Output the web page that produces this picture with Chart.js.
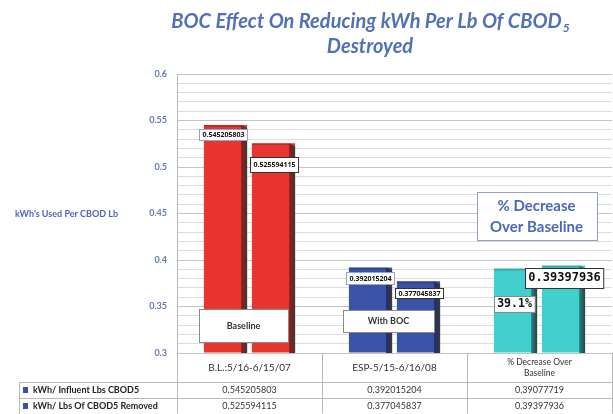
<!DOCTYPE html>
<html>
<head>
<meta charset="utf-8">
<script src="https://cdn.jsdelivr.net/npm/chart.js@4.4.1/dist/chart.umd.min.js"></script>
<style>
  html, body { margin: 0; padding: 0; background: #fff; }
</style>
</head>
<body>
<canvas id="chart" width="613" height="414"></canvas>
<script>
const categories = ["B.L.:5/16-6/15/07", "ESP-5/15-6/16/08", ["% Decrease Over", "Baseline"]];
const seriesNames = ["kWh/ Influent Lbs CBOD5", "kWh/ Lbs Of CBOD5 Removed"];
const influent = [0.545205803, 0.392015204, 0.39077719];
const removed = [0.525594115, 0.377045837, 0.39397936];
const influentLabels = ["0.545205803", "0.392015204", "39.1%"];
const removedLabels = ["0.525594115", "0.377045837", "0.39397936"];
const notes = ["Baseline", "With BOC", ["% Decrease", "Over Baseline"]];
const yTicks = ["0.3", "0.35", "0.4", "0.45", "0.5", "0.55", "0.6"];

const faceColors = ["#e8352f", "#3a52a8", "#44cfcf"];
const sideColors = ["#9a1a16", "#1f2d6e", "#178f8f"];

// where Excel put each data label, relative to its bar top
const labelStyle = [
  [
    { dx: -2, dy: 10, font: "bold 7px 'Open Sans'", h: 11, border: "#93a6c8" },
    { dx: 0, dy: 11, font: "bold 7px 'Open Sans'", h: 12, border: "#93a6c8" },
    { dx: -1, dy: 35, font: "bold 11.5px 'DejaVu Sans Mono'", h: 16, border: "#8a8a8a" }
  ],
  [
    { dx: 1, dy: 21, font: "bold 7px 'Open Sans'", h: 15, border: "#333" },
    { dx: 1, dy: 12, font: "bold 7px 'Open Sans'", h: 10, border: "#333" },
    { dx: 1, dy: 12, font: "bold 12px 'DejaVu Sans Mono'", h: 20, border: "#333" }
  ]
];

function drawBox(ctx, cx, cy, w, h, border) {
  const x = Math.round(cx - w / 2) + 0.5;
  const y = Math.round(cy - h / 2) + 0.5;
  ctx.fillStyle = "#fff";
  ctx.fillRect(x, y, w, h);
  ctx.strokeStyle = border;
  ctx.lineWidth = 1;
  ctx.strokeRect(x, y, w, h);
}

const bars3d = {
  id: "bars3d",
  afterDatasetsDraw(chart) {
    const ctx = chart.ctx;
    const bottom = chart.chartArea.bottom;
    chart.data.datasets.forEach((ds, d) => {
      chart.getDatasetMeta(d).data.forEach((bar, i) => {
        const left = bar.x - bar.width / 2;
        const right = bar.x + bar.width / 2;
        const side = 6;
        const g = ctx.createLinearGradient(right - side, 0, right, 0);
        g.addColorStop(0, sideColors[i]);
        g.addColorStop(1, "#3a3a3a");
        ctx.fillStyle = g;
        ctx.beginPath();
        ctx.moveTo(right - side, bar.y);
        ctx.lineTo(right, bar.y + 3);
        ctx.lineTo(right, bottom);
        ctx.lineTo(right - side, bottom);
        ctx.closePath();
        ctx.fill();
        ctx.fillStyle = "rgba(0,0,0,0.18)";
        ctx.fillRect(left, bar.y, bar.width - side, 2);
      });
    });
  }
};

const labels = {
  id: "labels",
  afterDatasetsDraw(chart) {
    const ctx = chart.ctx;
    const y = chart.scales.y;
    const x = chart.scales.x;
    const texts = [influentLabels, removedLabels];
    ctx.save();
    ctx.textAlign = "center";
    ctx.textBaseline = "middle";
    texts.forEach((list, d) => {
      const meta = chart.getDatasetMeta(d);
      list.forEach((t, i) => {
        const s = labelStyle[d][i];
        const bar = meta.data[i];
        ctx.font = s.font;
        const w = ctx.measureText(t).width + 6;
        const cx = bar.x + s.dx, cy = bar.y + s.dy;
        drawBox(ctx, cx, cy, w, s.h, s.border);
        ctx.fillStyle = "#111";
        ctx.fillText(t, cx, cy + 0.5);
      });
    });

    // text boxes placed over the bars
    const boxes = [
      { val: 0.3296, dx: -6, w: 89, h: 33 },
      { val: 0.3344, dx: -6, w: 91, h: 22 },
      { val: 0.4473, dx: -3, w: 120, h: 48 }
    ];
    notes.forEach((n, i) => {
      const b = boxes[i];
      const cx = x.getPixelForValue(i) + b.dx;
      const cy = y.getPixelForValue(b.val);
      if (i < 2) {
        drawBox(ctx, cx, cy, b.w, b.h, "#8a8a8a");
        ctx.font = "bold 9px Lato";
        ctx.fillStyle = "#333";
        ctx.fillText(n, cx, cy + 0.5);
      } else {
        drawBox(ctx, cx, cy, b.w, b.h, "#8fa2c6");
        ctx.font = "bold 15px Lato";
        ctx.fillStyle = "#4a68b8";
        ctx.fillText(n[0], cx, cy - 10);
        ctx.fillText(n[1], cx, cy + 11);
      }
    });
    ctx.restore();
  }
};

const table = {
  id: "table",
  afterDraw(chart) {
    const ctx = chart.ctx;
    const a = chart.chartArea;
    const x = chart.scales.x;
    const cw = (a.right - a.left) / categories.length;
    const rowTop = a.bottom, r1 = 382, r2 = 398, r3 = 413.5;
    ctx.save();

    // title, with the subscript 5
    ctx.fillStyle = "#5270b8";
    ctx.textBaseline = "alphabetic";
    ctx.textAlign = "left";
    ctx.font = "italic bold 20px Lato";
    const main = "BOC Effect On Reducing kWh Per Lb Of CBOD";
    const wMain = ctx.measureText(main).width;
    ctx.font = "italic bold 12px Lato";
    const wSub = ctx.measureText("5").width;
    let tx = 370 - (wMain + wSub) / 2;
    ctx.font = "italic bold 20px Lato";
    ctx.fillText(main, tx, 28);
    ctx.font = "italic bold 12px Lato";
    ctx.fillText("5", tx + wMain + 1, 32);
    ctx.font = "italic bold 20px Lato";
    ctx.textAlign = "center";
    ctx.fillText("Destroyed", 370, 53);

    // y axis title
    ctx.textAlign = "left";
    ctx.textBaseline = "middle";
    ctx.font = "bold 9px Lato";
    ctx.fillStyle = "#4f66b2";
    ctx.fillText("kWh's Used Per CBOD Lb", 15, 214);

    // data table grid
    ctx.strokeStyle = "#b9b9b9";
    ctx.lineWidth = 1;
    ctx.beginPath();
    for (let i = 0; i <= categories.length; i++) {
      const px = Math.round(a.left + i * cw) + 0.5;
      ctx.moveTo(px, rowTop);
      ctx.lineTo(px, r3);
    }
    [r1, r2, r3].forEach(ry => {
      ctx.moveTo(19, Math.round(ry) + 0.5);
      ctx.lineTo(a.right + 1, Math.round(ry) + 0.5);
    });
    ctx.moveTo(19.5, r1);
    ctx.lineTo(19.5, r3);
    ctx.stroke();

    ctx.textAlign = "center";
    ctx.fillStyle = "#333";
    categories.forEach((c, i) => {
      const cx = x.getPixelForValue(i);
      if (Array.isArray(c)) {
        ctx.font = "8.5px Lato";
        ctx.fillText(c[0], cx, 362);
        ctx.fillText(c[1], cx, 373);
      } else {
        ctx.font = "10px Lato";
        ctx.fillText(c, cx, 368);
      }
      ctx.font = "9px Lato";
      ctx.fillText(String(influent[i]), cx, 390.5);
      ctx.fillText(String(removed[i]), cx, 406.5);
    });

    ctx.textAlign = "left";
    ctx.font = "bold 9px Lato";
    seriesNames.forEach((s, k) => {
      const ry = k === 0 ? 390.5 : 406.5;
      ctx.fillStyle = "#3a4fa6";
      ctx.fillRect(23, ry - 3.5, 5, 6);
      ctx.fillStyle = "#222";
      ctx.fillText(s, 33, ry);
    });
    ctx.restore();
  }
};

new Chart(document.getElementById("chart"), {
  type: "bar",
  data: {
    labels: categories,
    datasets: [
      { label: seriesNames[0], data: influent, backgroundColor: faceColors, borderWidth: 0, base: 0.3 },
      { label: seriesNames[1], data: removed, backgroundColor: faceColors, borderWidth: 0, base: 0.3 }
    ]
  },
  options: {
    responsive: false,
    animation: false,
    categoryPercentage: 0.662,
    barPercentage: 0.9,
    layout: { padding: { top: 74, bottom: 61, left: 0, right: 1 } },
    scales: {
      x: { display: false },
      y: {
        min: 0.3,
        max: 0.6,
        ticks: {
          stepSize: 0.01,
          maxTicksLimit: 100,
          autoSkip: false,
          padding: 10,
          color: "#6678b8",
          font: { family: "Lato", size: 9, weight: "bold" },
          callback: v => {
            const k = Math.round(v * 100) - 30;
            return k % 5 === 0 ? yTicks[k / 5] : "";
          }
        },
        grid: {
          drawTicks: false,
          color: c => Math.round(c.tick.value * 100) % 5 === 0 ? "#c4c4c4" : "#dddddd"
        },
        border: { color: "#b9b9b9" },
        afterFit: s => { s.width = 177; s.paddingTop = 0; s.paddingBottom = 0; }
      }
    },
    plugins: {
      legend: { display: false },
      tooltip: { enabled: false },
      title: { display: false }
    }
  },
  plugins: [bars3d, labels, table]
});
</script>
</body>
</html>
